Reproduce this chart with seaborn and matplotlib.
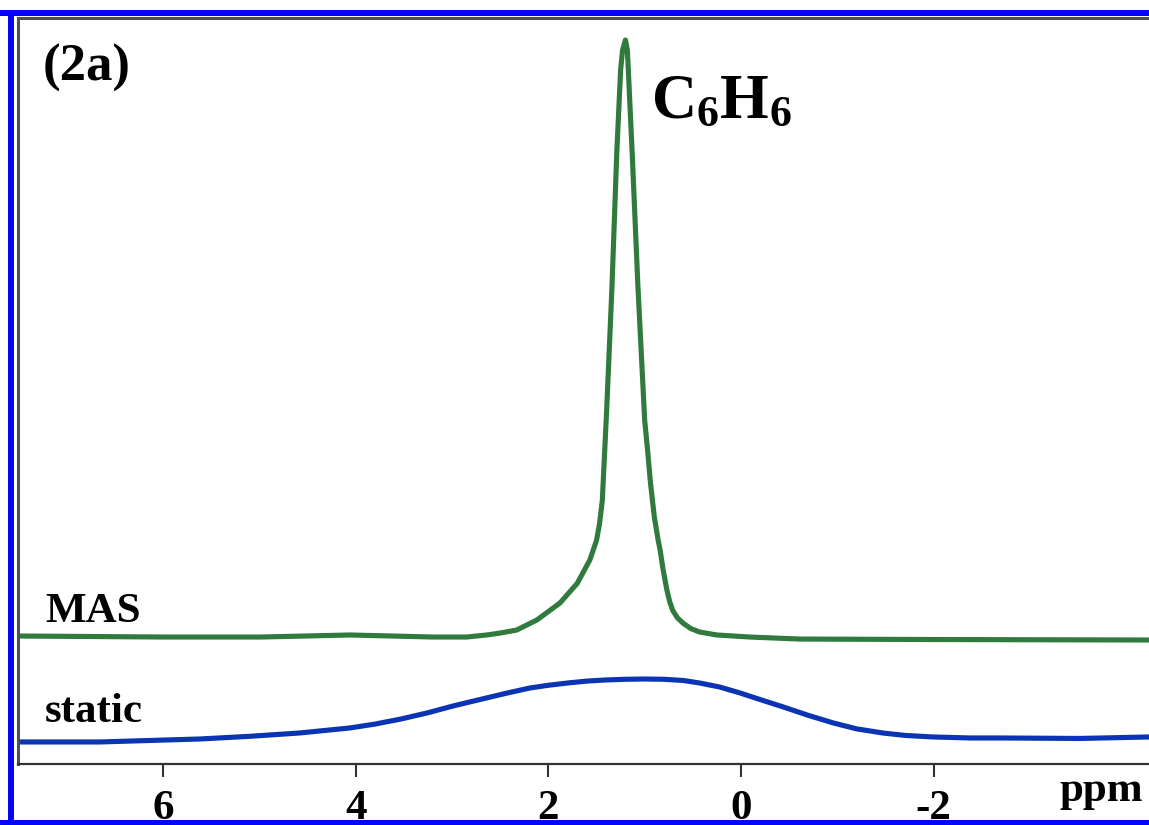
import matplotlib
matplotlib.use("Agg")
import matplotlib.pyplot as plt
from matplotlib.patches import Rectangle
import numpy as np
import pandas as pd
import seaborn as sns

# 1H spectra of benzene: chemical shift (ppm) and intensity above each trace's baseline
mas_ppm = [7.51, 6.00, 4.99, 4.06, 3.20, 2.85, 2.64, 2.50, 2.33, 2.12, 1.88, 1.70,
           1.57, 1.50, 1.47, 1.44, 1.415, 1.395, 1.34, 1.29, 1.25, 1.23, 1.20, 1.18,
           1.17, 1.13, 1.07, 1.00, 0.97, 0.94, 0.90, 0.86, 0.84, 0.81, 0.77, 0.74,
           0.71, 0.66, 0.60, 0.52, 0.43, 0.25, -0.09, -0.61, -2.01, -4.24]
mas_int = [0.17, 0.0, 0.0, 0.34, 0.0, 0.0, 0.34, 0.67, 1.17, 2.85, 5.7, 9.0,
           12.9, 16.2, 18.9, 22.9, 31.3, 38.0, 58.6, 81.1, 95.0, 98.3, 100.0, 98.3,
           95.0, 81.1, 58.6, 36.3, 31.3, 25.8, 20.1, 16.2, 14.6, 11.4, 7.9, 5.9,
           4.5, 3.2, 2.3, 1.4, 0.84, 0.34, 0.0, -0.34, -0.42, -0.5]

static_ppm = [7.51, 6.66, 5.62, 5.10, 4.58, 4.06, 3.80, 3.53, 3.25, 2.99, 2.60,
              2.40, 2.19, 2.00, 1.80, 1.60, 1.40, 1.20, 1.01, 0.80, 0.60, 0.43,
              0.22, 0.01, -0.20, -0.44, -0.70, -0.96, -1.20, -1.47, -1.70, -1.99,
              -2.38, -2.69, -3.52, -4.24]
static_int = [0.0, 0.0, 0.50, 0.95, 1.51, 2.35, 3.0, 3.85, 4.9, 6.03, 7.54,
              8.3, 9.05, 9.5, 9.88, 10.2, 10.39, 10.5, 10.55, 10.5, 10.30, 9.88,
              9.2, 8.21, 7.1, 5.86, 4.45, 3.18, 2.2, 1.51, 1.1, 0.84,
              0.67, 0.67, 0.59, 0.84]

tick_values = [6, 4, 2, 0, -2]
tick_labels = ["6", "4", "2", "0", "-2"]

# vertical stacking of the two traces
MAS_OFFSET = 21.27
STATIC_OFFSET = 3.69

sns.set_style("white")
plt.rcParams["font.family"] = ["Liberation Serif", "DejaVu Serif"]
plt.rcParams["font.weight"] = "bold"
plt.rcParams["text.color"] = "black"
plt.rcParams["xtick.color"] = "black"
plt.rcParams["mathtext.fontset"] = "custom"
plt.rcParams["mathtext.rm"] = "Liberation Serif:bold"
plt.rcParams["mathtext.bf"] = "Liberation Serif:bold"
plt.rcParams["mathtext.default"] = "bf"

W, H = 1149, 825
fig = plt.figure(figsize=(W / 100, H / 100), dpi=100)
fig.patch.set_facecolor("white")

x0, y_bot, y_top = 18, 764, 18
ax = fig.add_axes([x0 / W, (H - y_bot) / H, (W - x0) / W, (y_bot - y_top) / H])

mas = pd.DataFrame({"ppm": mas_ppm, "intensity": np.array(mas_int) + MAS_OFFSET})
static = pd.DataFrame({"ppm": static_ppm, "intensity": np.array(static_int) + STATIC_OFFSET})

line_kw = dict(estimator=None, linewidth=3.7, solid_joinstyle="round", solid_capstyle="round")
sns.lineplot(data=mas, x="ppm", y="intensity", color="#2f7a3c", ax=ax, **line_kw)
sns.lineplot(data=static, x="ppm", y="intensity", color="#0b34b4", ax=ax, **line_kw)

ax.set_xlim(7.508, -4.237)
ax.set_ylim(0, 124.96)
ax.set_xlabel("")
ax.set_ylabel("")
ax.set_yticks([])
ax.set_xticks(tick_values)
ax.set_xticklabels(tick_labels, fontsize=31, fontweight="bold", color="black")
ax.tick_params(axis="x", direction="out", length=9.5, width=1.5, color="#333333",
               pad=9, bottom=True)

for side in ["left", "top", "bottom"]:
    ax.spines[side].set_visible(True)
ax.spines["right"].set_visible(False)
ax.spines["left"].set_color("#505050")
ax.spines["left"].set_linewidth(2.2)
ax.spines["top"].set_color("#505050")
ax.spines["top"].set_linewidth(2.2)
ax.spines["bottom"].set_color("#333333")
ax.spines["bottom"].set_linewidth(1.6)


def fx(px):
    return px / W


def fy(py):
    return 1 - py / H


txt = dict(fontweight="bold", va="baseline", color="black")
fig.text(fx(43), fy(81), "(2a)", fontsize=38, ha="left", **txt)
fig.text(fx(651), fy(118), r"C$_6$H$_6$", fontsize=45, ha="left", **txt)
fig.text(fx(45), fy(622), "MAS", fontsize=31, ha="left", **txt)
fig.text(fx(45), fy(722), "static", fontsize=31, ha="left", **txt)
fig.text(fx(1143), fy(801), "ppm", fontsize=31, ha="right", **txt)

# blue frame around the panel
frame_blue = "#0505f5"
for (px, py, pw, ph) in [(0, 10, W, 6), (8, 10, 6, H - 10), (0, 820, W, 5)]:
    fig.add_artist(Rectangle((fx(px), fy(py + ph)), pw / W, ph / H,
                             transform=fig.transFigure, facecolor=frame_blue,
                             edgecolor="none", zorder=10))

fig.savefig("out.png", dpi=100, facecolor="white")
